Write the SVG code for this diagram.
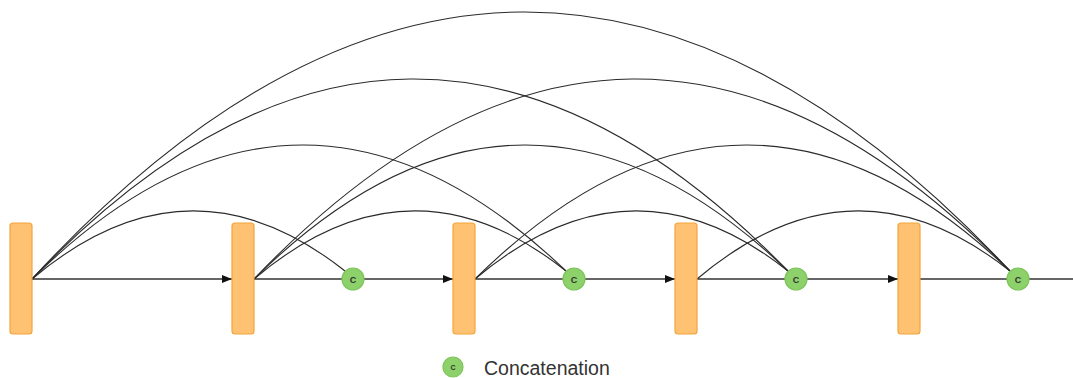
<svg xmlns="http://www.w3.org/2000/svg" width="1073" height="378" viewBox="0 0 1073 378">
  <defs>
    <marker id="arrow" viewBox="0 0 10 8" refX="10" refY="4" markerWidth="10" markerHeight="8" markerUnits="userSpaceOnUse" orient="auto">
      <path d="M0,0 L10,4 L0,8 Z" fill="#111"/>
    </marker>
    <style>
      .layer { fill: #FFC272; stroke: #F4A43C; stroke-width: 1.2; }
      .concat { fill: #8DD16A; stroke: #7DC45B; stroke-width: 1.2; }
      .clabel { font-family: "Liberation Sans", Arial, sans-serif; font-size: 9px; font-weight: bold; fill: #333; text-anchor: middle; }
      .flow { fill: none; stroke: #333; stroke-width: 1.3; }
      .skip { fill: none; stroke: #2a2a2a; stroke-width: 1.1; }
      .legend { font-family: "Liberation Sans", Arial, sans-serif; font-size: 19.5px; fill: #333; }
    </style>
  </defs>

  <!-- connectors -->
  <g id="connectors">
    <!-- main forward path -->
    <path class="flow" d="M32,279 H232" marker-end="url(#arrow)"/>
    <path class="flow" d="M254,279 H453" marker-end="url(#arrow)"/>
    <path class="flow" d="M475,279 H675" marker-end="url(#arrow)"/>
    <path class="flow" d="M697,279 H898" marker-end="url(#arrow)"/>
    <path class="flow" d="M920,279 H1073"/>
    <!-- dense skip connections, one hop -->
    <path class="skip" d="M32,279 Q188.5,147 345,271"/>
    <path class="skip" d="M254,279 Q410,147 566,271"/>
    <path class="skip" d="M475,279 Q631.5,147 788,271"/>
    <path class="skip" d="M697,279 Q853.5,147 1010,271"/>
    <!-- two hops -->
    <path class="skip" d="M32,279 Q299,15 566,271"/>
    <path class="skip" d="M254,279 Q521,15 788,271"/>
    <path class="skip" d="M475,279 Q742.5,15 1010,271"/>
    <!-- three hops -->
    <path class="skip" d="M32,279 Q410,-117 788,271"/>
    <path class="skip" d="M254,279 Q632,-117 1010,271"/>
    <!-- four hops -->
    <path class="skip" d="M32,279 Q521,-251 1010,271"/>
  </g>

  <!-- layers -->
  <g id="layer1"><rect class="layer" x="10" y="223" width="22" height="111" rx="3"/></g>
  <g id="layer2"><rect class="layer" x="232" y="223" width="22" height="111" rx="3"/></g>
  <g id="layer3"><rect class="layer" x="453" y="223" width="22" height="111" rx="3"/></g>
  <g id="layer4"><rect class="layer" x="675" y="223" width="22" height="111" rx="3"/></g>
  <g id="layer5"><rect class="layer" x="898" y="223" width="22" height="111" rx="3"/></g>

  <!-- concatenation nodes -->
  <g id="concat1"><circle class="concat" cx="353" cy="279" r="11"/><text class="clabel" x="353" y="282.5">C</text></g>
  <g id="concat2"><circle class="concat" cx="574" cy="279" r="11"/><text class="clabel" x="574" y="282.5">C</text></g>
  <g id="concat3"><circle class="concat" cx="796" cy="279" r="11"/><text class="clabel" x="796" y="282.5">C</text></g>
  <g id="concat4"><circle class="concat" cx="1018" cy="279" r="11"/><text class="clabel" x="1018" y="282.5">C</text></g>

  <!-- legend -->
  <g id="legend">
    <circle class="concat" cx="453" cy="367" r="10"/>
    <text class="clabel" x="453" y="370" style="font-size:7px">C</text>
    <text class="legend" x="484" y="375">Concatenation</text>
  </g>
</svg>
